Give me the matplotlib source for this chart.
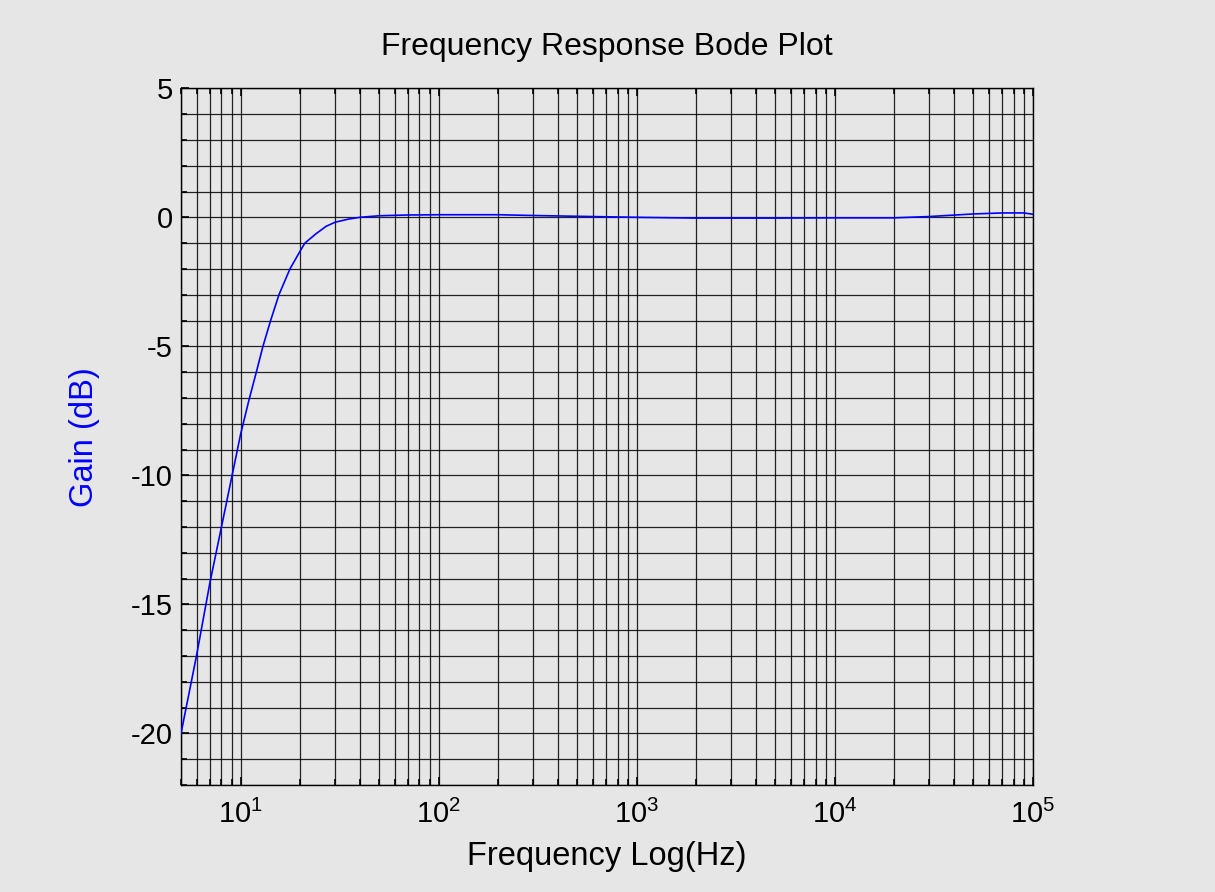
import matplotlib
matplotlib.use("Agg")
import matplotlib.pyplot as plt
from matplotlib.ticker import LogLocator, MultipleLocator, NullFormatter

plt.rcParams['font.family'] = ['Liberation Sans', 'DejaVu Sans']
plt.rcParams['axes.unicode_minus'] = False

freq_hz = [5, 6, 7, 8, 9, 10, 11, 12.0, 12.96, 14.17, 15.61, 17.74, 20, 21.1,
           23.9, 27, 30, 35, 40, 50, 70, 100, 200, 300, 500, 1000, 2000, 5000,
           10000, 20000, 30000, 50000, 70000, 90000, 100000]
gain_db = [-20.0, -16.95, -14.15, -12.0, -10.1, -8.4, -7.1, -6.0, -5.0, -4.0,
           -3.0, -2.0, -1.3, -1.0, -0.65, -0.35, -0.19, -0.07, 0.0, 0.06,
           0.09, 0.1, 0.1, 0.07, 0.04, 0.0, -0.03, -0.03, -0.02, -0.02, 0.03,
           0.13, 0.17, 0.17, 0.12]

title = "Frequency Response Bode Plot"
xlabel = "Frequency Log(Hz)"
ylabel = "Gain (dB)"
bg = "#e6e6e6"

fig = plt.figure(figsize=(12.15, 8.92), dpi=100, facecolor=bg)
ax = fig.add_axes([0.149, 0.120, 0.701, 0.781], facecolor=bg)

ax.semilogx(freq_hz, gain_db, color="#0000ff", lw=1.2, zorder=3)
ax.set_xlim(5, 1e5)
ax.set_ylim(-22, 5)

ax.xaxis.set_major_locator(LogLocator(base=10, numticks=20))
ax.xaxis.set_minor_locator(LogLocator(base=10, subs=range(2, 10), numticks=50))
ax.xaxis.set_minor_formatter(NullFormatter())
ax.yaxis.set_major_locator(MultipleLocator(5))
ax.yaxis.set_minor_locator(MultipleLocator(1))

ax.grid(True, which="both", color="black", lw=0.9, alpha=0.85)
for s in ax.spines.values():
    s.set_color("black")
    s.set_linewidth(1)

ax.tick_params(which="both", direction="in", top=True, right=False,
               color="black", labelsize=21)
ax.tick_params(axis="y", pad=6)
ax.tick_params(axis="x", pad=11)
ax.tick_params(which="major", length=6, width=1.2)
ax.tick_params(which="minor", length=4, width=1.2)

ax.set_title(title, fontsize=23, pad=24)
ax.set_xlabel(xlabel, fontsize=23.5, labelpad=8)
ax.set_ylabel(ylabel, fontsize=23.5, color="#0000ff", labelpad=22)

fig.savefig("out.png", dpi=100, facecolor=bg)
